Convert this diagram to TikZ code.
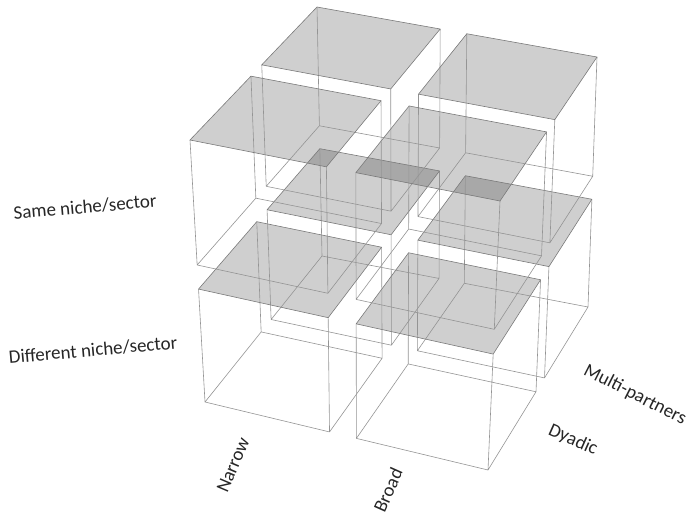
\documentclass[tikz,border=0pt]{standalone}
\usepackage{fontspec}
\setmainfont{Carlito}
% trilinear map of the whole 2x2x2 block
\newcommand\tlpt[4]{%
  \pgfmathsetmacro\qa{#2}%
  \pgfmathsetmacro\qb{#3}%
  \pgfmathsetmacro\qc{#4}%
  \pgfmathsetmacro\qx{(1-\qc)*((1-\qb)*((1-\qa)*205+\qa*488)+\qb*((1-\qa)*322+\qa*588))+\qc*((1-\qb)*((1-\qa)*190+\qa*500)+\qb*((1-\qa)*317+\qa*597))}%
  \pgfmathsetmacro\qy{(1-\qc)*((1-\qb)*((1-\qa)*402+\qa*470)+\qb*((1-\qa)*256+\qa*307))+\qc*((1-\qb)*((1-\qa)*140+\qa*201)+\qb*((1-\qa)*7+\qa*57))}%
  \coordinate (#1) at (\qx,-\qy);%
}
\newcommand\mycube[3]{%
  \ifnum#1=0 \def\xl{0}\def\xh{0.44}\else\def\xl{0.535}\def\xh{1}\fi
  \ifnum#2=0 \def\yl{0}\def\yh{0.48}\else\def\yl{0.565}\def\yh{1}\fi
  \ifnum#3=0 \def\zl{0}\def\zh{0.431}\else\def\zl{0.523}\def\zh{1}\fi
  \tlpt{#1#2#3a}{\xl}{\yl}{\zl}%
  \tlpt{#1#2#3b}{\xh}{\yl}{\zl}%
  \tlpt{#1#2#3c}{\xh}{\yh}{\zl}%
  \tlpt{#1#2#3d}{\xl}{\yh}{\zl}%
  \tlpt{#1#2#3e}{\xl}{\yl}{\zh}%
  \tlpt{#1#2#3f}{\xh}{\yl}{\zh}%
  \tlpt{#1#2#3g}{\xh}{\yh}{\zh}%
  \tlpt{#1#2#3h}{\xl}{\yh}{\zh}%
}
\begin{document}
\begin{tikzpicture}[x=1pt,y=1pt,
  edge/.style={draw=black!42,line width=0.6pt,line join=round},
  topedge/.style={draw=black!52,line width=0.6pt,line join=round},
  topface/.style={fill=black,fill opacity=0.19},
  lab/.style={font=\fontsize{19}{22}\selectfont,text=black!85,inner sep=0pt}]
\useasboundingbox (0,0) rectangle (688,-517);
\mycube{0}{0}{0}\mycube{1}{0}{0}\mycube{0}{1}{0}\mycube{1}{1}{0}
\mycube{0}{0}{1}\mycube{1}{0}{1}\mycube{0}{1}{1}\mycube{1}{1}{1}
% grey top faces
\foreach \cb in {010,110,000,100,011,111,001,101}{
  \fill[topface] (\cb e) -- (\cb f) -- (\cb g) -- (\cb h) -- cycle;
}
% edges
\foreach \cb in {010,110,000,100,011,111,001,101}{
  \draw[edge] (\cb a) -- (\cb b) -- (\cb c) -- (\cb d) -- cycle
    (\cb a) -- (\cb e) (\cb b) -- (\cb f) (\cb c) -- (\cb g) (\cb d) -- (\cb h);
  \draw[topedge] (\cb e) -- (\cb f) -- (\cb g) -- (\cb h) -- cycle;
}
% labels
\node[lab,rotate=5] (same) at (85,-207) {Same niche/sector};
\node[lab,rotate=5] (diff) at (93,-350) {Different niche/sector};
\node[lab,rotate=67] (narrow) at (233,-465) {Narrow};
\node[lab,rotate=66] (broad) at (388,-490) {Broad};
\node[lab,rotate=-27] (multi) at (635,-395) {Multi-partners};
\node[lab,rotate=-24] (dyadic) at (573,-440) {Dyadic};
\end{tikzpicture}
\end{document}
